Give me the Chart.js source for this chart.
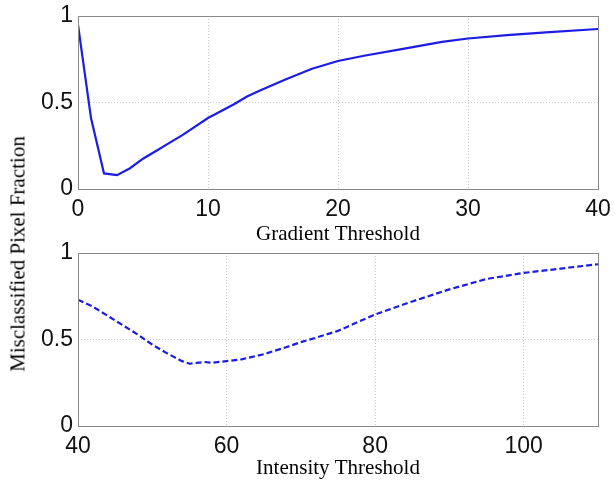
<!DOCTYPE html>
<html>
<head>
<meta charset="utf-8">
<script src="https://cdn.jsdelivr.net/npm/chart.js@4.4.1/dist/chart.umd.min.js"></script>
<style>
  html, body { margin: 0; padding: 0; background: #fff; }
  #wrap { position: relative; width: 615px; height: 484px; overflow: hidden; }
  .cv { position: absolute; left: 0; width: 615px; height: 247px; }
  #c1 { top: 0; }
  #c2 { top: 237px; }
  #ytitle {
    position: absolute; left: 18px; top: 254px;
    transform: translate(-50%, -50%) rotate(-90deg);
    font-family: "Liberation Serif", "Times New Roman", serif;
    font-size: 21px; white-space: nowrap; color: #000;
  }
</style>
</head>
<body>
<div id="wrap">
  <div class="cv" id="c1"><canvas id="chartGrad"></canvas></div>
  <div class="cv" id="c2"><canvas id="chartInt"></canvas></div>
  <div id="ytitle">Misclassified Pixel Fraction</div>
</div>
<script>
// ── veriler ─────────────────────────────────────
const gradX = [0, 1, 2, 3, 4, 5, 6, 7, 8, 10, 12, 13, 14, 16, 18, 20, 22, 25, 28, 30, 33, 36, 40];
const gradY = [0.95, 0.41, 0.09, 0.08, 0.12, 0.175, 0.22, 0.265, 0.31, 0.41, 0.49, 0.535, 0.57, 0.635, 0.695, 0.74, 0.77, 0.81, 0.85, 0.87, 0.89, 0.905, 0.925];

const intX = [40, 42, 45, 48, 50, 52, 54, 55, 56, 57, 58, 60, 62, 65, 68, 70, 72, 75, 80, 85, 90, 95, 100, 105, 110];
const intY = [0.73, 0.69, 0.61, 0.53, 0.47, 0.42, 0.375, 0.36, 0.365, 0.37, 0.365, 0.375, 0.385, 0.415, 0.455, 0.485, 0.51, 0.55, 0.645, 0.72, 0.79, 0.85, 0.885, 0.91, 0.935];

const gradTicks = [0, 10, 20, 30, 40];
const intTicks  = [40, 60, 80, 100];
const yTicks    = [0, 0.5, 1];

const BLUE = '#1c1ce8';
const tickFont  = { family: 'Liberation Sans, Arial, sans-serif', size: 23 };
const titleFont = { family: 'Liberation Serif, Times New Roman, serif', size: 21 };

// kutu çerçevesi
const boxPlugin = {
  id: 'box',
  afterDraw(chart) {
    const a = chart.chartArea, c = chart.ctx;
    c.save();
    c.strokeStyle = '#8a8a8a';
    c.lineWidth = 1;
    c.strokeRect(Math.round(a.left) + 0.5, Math.round(a.top) + 0.5,
                 Math.round(a.right - a.left), Math.round(a.bottom - a.top));
    c.restore();
  }
};

function makeChart(id, xs, ys, xMin, xMax, xTicks, xTitle, dashed, titlePad) {
  const gridColor = ctx => (ctx.tick && (ctx.tick.value === xMin || ctx.tick.value === xMax)) ? 'rgba(0,0,0,0)' : '#c8c8c8';
  const yGridColor = ctx => (ctx.tick && (ctx.tick.value === 0 || ctx.tick.value === 1)) ? 'rgba(0,0,0,0)' : '#c8c8c8';
  return new Chart(document.getElementById(id), {
    type: 'line',
    data: {
      datasets: [{
        data: xs.map((x, i) => ({ x, y: ys[i] })),
        borderColor: BLUE,
        borderWidth: 2.2,
        borderDash: dashed ? [6, 3] : [],
        pointRadius: 0,
        tension: 0,
        fill: false
      }]
    },
    options: {
      responsive: true, maintainAspectRatio: false, animation: false,
      layout: { padding: { top: 16, right: 17, left: 0, bottom: 0 } },
      plugins: { legend: { display: false }, tooltip: { enabled: false } },
      scales: {
        x: {
          type: 'linear', min: xMin, max: xMax,
          afterBuildTicks: s => { s.ticks = xTicks.map(v => ({ value: v })); },
          afterFit: s => { s.height = 58; s.paddingLeft = 0; s.paddingRight = 0; },
          grid: { color: gridColor, drawTicks: false, lineWidth: 1 },
          border: { display: false, dash: [1, 2] },
          ticks: { color: '#111', font: tickFont, padding: 7, maxRotation: 0, callback: v => String(v) },
          title: { display: true, text: xTitle, color: '#000', font: titleFont, padding: { top: 0, bottom: titlePad } }
        },
        y: {
          type: 'linear', min: 0, max: 1,
          afterBuildTicks: s => { s.ticks = yTicks.map(v => ({ value: v })); },
          afterFit: s => { s.width = 78; s.paddingTop = 0; s.paddingBottom = 0; },
          grid: { color: yGridColor, drawTicks: false, lineWidth: 1 },
          border: { display: false, dash: [1, 2] },
          ticks: { color: '#111', font: tickFont, padding: 5, callback: v => String(v) }
        }
      }
    },
    plugins: [boxPlugin]
  });
}

makeChart('chartGrad', gradX, gradY, 0, 40, gradTicks, 'Gradient Threshold', false, 0);
makeChart('chartInt', intX, intY, 40, 110, intTicks, 'Intensity Threshold', true, 3);
</script>
</body>
</html>
